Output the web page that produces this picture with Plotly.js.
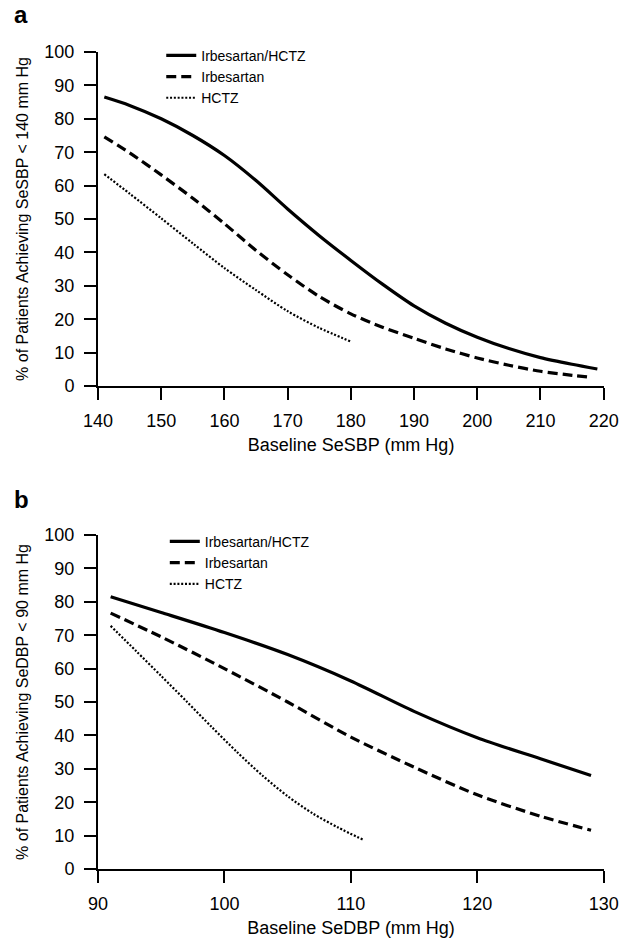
<!DOCTYPE html>
<html>
<head>
<meta charset="utf-8">
<script src="https://cdn.plot.ly/plotly-3.0.1.min.js"></script>
<style>html,body{margin:0;padding:0;background:#fff;}#chart{width:619px;height:941px;}</style>
</head>
<body>
<div id="chart"></div>
<script>
// Panel a: systolic
const seriesNames = ["Irbesartan/HCTZ", "Irbesartan", "HCTZ"];
const sbpComboX = [141,145,150,155,160,165,170,175,180,185,190,195,200,205,210,215,219];
const sbpComboY = [86.5,84.0,80.0,75.0,69.0,61.5,53.0,45.0,37.6,30.5,24.0,18.8,14.6,11.2,8.5,6.5,5.1];
const sbpIrbX = [141,145,150,155,160,165,170,175,180,185,190,195,200,205,210,215,218];
const sbpIrbY = [74.6,69.8,63.2,56.2,48.6,40.6,33.3,26.8,21.6,17.6,14.3,11.1,8.4,6.2,4.4,3.2,2.6];
const sbpHctzX = [141,145,150,155,160,165,170,175,180];
const sbpHctzY = [63.4,57.6,50.2,42.7,35.3,28.7,22.4,17.4,13.3];
// Panel b: diastolic
const dbpComboX = [91,95,100,105,110,115,120,125,129];
const dbpComboY = [81.5,76.8,70.8,64.2,56.3,47.2,39.3,33.0,28.0];
const dbpIrbX = [91,95,100,105,110,115,120,125,129];
const dbpIrbY = [76.6,69.5,60,50,39.5,30.5,22.2,15.8,11.6];
const dbpHctzX = [91,93,95,97,99,101,103,105,107,109,111];
const dbpHctzY = [72.8,65.3,57.8,50.2,42.5,35.0,28.0,21.8,16.6,12.4,8.7];
const sbpTicksX = [140,150,160,170,180,190,200,210,220];
const dbpTicksX = [90,100,110,120,130];
const ticksY = [0,10,20,30,40,50,60,70,80,90,100];

const styles = [
  {dash:'solid', width:3.2},
  {dash:'10px,5px', width:3.2},
  {dash:'2px,1.8px', width:2.2}
];
function tr(x, y, i, xa, ya, lg){
  return {x:x, y:y, xaxis:xa, yaxis:ya, legend:lg, name:seriesNames[i], type:'scatter', mode:'lines',
    line:{color:'#000', dash:styles[i].dash, width:styles[i].width, shape:'spline', smoothing:0.8},
    hoverinfo:'skip'};
}
const data = [
  tr(sbpComboX, sbpComboY, 0, 'x', 'y', 'legend'),
  tr(sbpIrbX, sbpIrbY, 1, 'x', 'y', 'legend'),
  tr(sbpHctzX, sbpHctzY, 2, 'x', 'y', 'legend'),
  tr(dbpComboX, dbpComboY, 0, 'x2', 'y2', 'legend2'),
  tr(dbpIrbX, dbpIrbY, 1, 'x2', 'y2', 'legend2'),
  tr(dbpHctzX, dbpHctzY, 2, 'x2', 'y2', 'legend2')
];
const FONT = 'Liberation Sans, Arial, sans-serif';
function xax(range, ticks, title, anchor){
  return {range:range, tickvals:ticks, ticktext:ticks.map(String), anchor:anchor,
    showline:true, linecolor:'#000', linewidth:2, ticks:'outside', ticklen:12, tickwidth:2, tickcolor:'#000',
    showgrid:false, zeroline:false, fixedrange:true, ticklabelstandoff:5,
    tickfont:{family:FONT, size:18, color:'#000'},
    title:{text:title, font:{family:FONT, size:18, color:'#000'}, standoff:9}};
}
function yax(domain, title, anchor){
  return {range:[0,100], domain:domain, tickvals:ticksY, ticktext:ticksY.map(String), anchor:anchor,
    showline:true, linecolor:'#000', linewidth:2, ticks:'outside', ticklen:12, tickwidth:2, tickcolor:'#000',
    showgrid:false, zeroline:false, fixedrange:true, ticklabelstandoff:6,
    tickfont:{family:FONT, size:18, color:'#000'},
    title:{text:title, font:{family:FONT, size:16, color:'#000'}, standoff:12}};
}
const legendBase = {xanchor:'left', yanchor:'top', bgcolor:'rgba(0,0,0,0)', borderwidth:0,
  font:{family:FONT, size:14, color:'#000'}, tracegroupgap:0, itemwidth:30};
const layout = {
  width:619, height:941,
  margin:{l:98, r:15, t:52, b:72},
  paper_bgcolor:'#fff', plot_bgcolor:'#fff',
  showlegend:true,
  xaxis: xax([140,220.05], sbpTicksX, 'Baseline SeSBP (mm Hg)', 'y'),
  yaxis: yax([0.5912,1], '% of Patients Achieving SeSBP < 140 mm Hg', 'x'),
  xaxis2: xax([90,130.025], dbpTicksX, 'Baseline SeDBP (mm Hg)', 'y2'),
  yaxis2: yax([0,0.4088], '% of Patients Achieving SeDBP < 90 mm Hg', 'x2'),
  legend: Object.assign({x:0.125, y:1.015}, legendBase),
  legend2: Object.assign({x:0.132, y:0.42}, legendBase),
  annotations:[
    {text:'<b>a</b>', xref:'paper', yref:'paper', x:-0.17, y:1.027, xanchor:'left', yanchor:'bottom', showarrow:false, font:{family:FONT, size:24, color:'#000'}},
    {text:'<b>b</b>', xref:'paper', yref:'paper', x:-0.17, y:0.433, xanchor:'left', yanchor:'bottom', showarrow:false, font:{family:FONT, size:24, color:'#000'}}
  ]
};
Plotly.newPlot('chart', data, layout, {staticPlot:true, displayModeBar:false});
</script>
</body>
</html>
